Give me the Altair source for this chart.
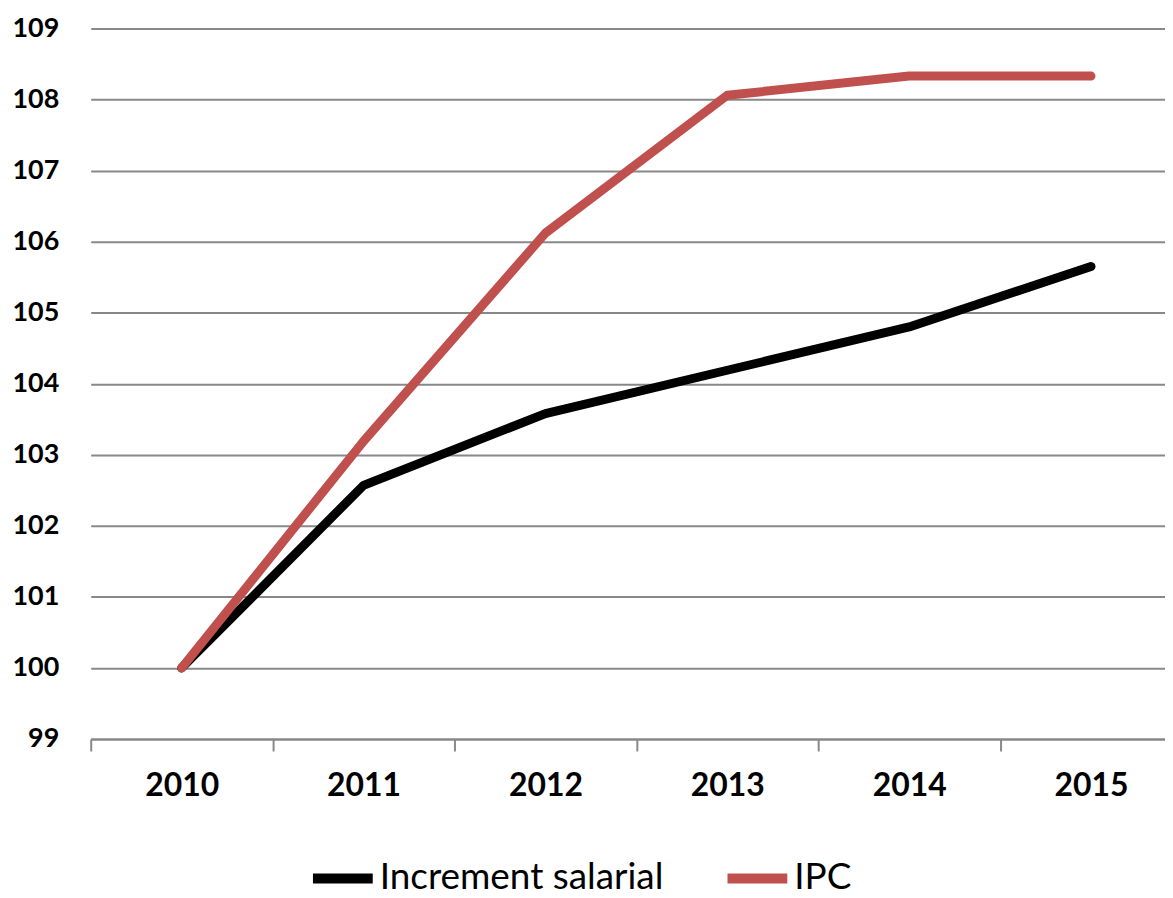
import altair as alt
import pandas as pd

years = [2010, 2011, 2012, 2013, 2014, 2015]
salarial = [100.0, 102.57, 103.58, 104.19, 104.80, 105.65]
ipc = [100.0, 103.19, 106.12, 108.06, 108.33, 108.33]
series_names = ["Increment salarial", "IPC"]
colors = ["#000000", "#C0504D"]

rows = []
for y, v in zip(years, salarial):
    rows.append({"year": y, "value": v, "series": series_names[0]})
for y, v in zip(years, ipc):
    rows.append({"year": y, "value": v, "series": series_names[1]})
df = pd.DataFrame(rows)

W = 1078
step = 182.5
xmax = 2009.5 + W / step

chart = alt.Chart(df).mark_line(strokeWidth=9, strokeCap="round", strokeJoin="round").encode(
    x=alt.X("year:Q",
            scale=alt.Scale(domain=[2009.5, xmax], nice=False, zero=False),
            axis=alt.Axis(values=[2009.5, 2010.5, 2011.5, 2012.5, 2013.5, 2014.5],
                          labelExpr="format(datum.value + 0.5, 'd')",
                          labelOffset=step / 2, labelBound=False, labelFlush=False,
                          labelOverlap=False,
                          grid=False, tickSize=12, tickColor="#888888", tickWidth=2,
                          domainColor="#888888", domainWidth=2,
                          labelFont="Lato", labelFontWeight="bold", labelFontSize=32,
                          labelColor="#000000", labelPadding=20, title=None)),
    y=alt.Y("value:Q",
            scale=alt.Scale(domain=[99, 109], nice=False, zero=False),
            axis=alt.Axis(values=list(range(99, 110)), grid=True, gridColor="#888888",
                          gridWidth=2, domain=False, ticks=False,
                          labelFont="Lato", labelFontWeight="bold", labelFontSize=27,
                          labelColor="#000000", labelPadding=32, title=None)),
    color=alt.Color("series:N",
                    scale=alt.Scale(domain=series_names, range=colors),
                    legend=alt.Legend(orient="none", legendX=218, legendY=818,
                                      direction="horizontal", title=None,
                                      symbolType="stroke", symbolSize=3600,
                                      symbolStrokeWidth=10, labelFont="Lato",
                                      labelFontSize=37, labelColor="#000000",
                                      labelLimit=1000,
                                      labelOffset=2, columnPadding=44,
                                      symbolOffset=0)),
).properties(
    width=W, height=713,
    padding={"left": 4, "top": 5, "right": 0, "bottom": 0},
).configure_view(stroke=None)

chart.save("out.html", embed_options={"renderer": "svg", "actions": False})
